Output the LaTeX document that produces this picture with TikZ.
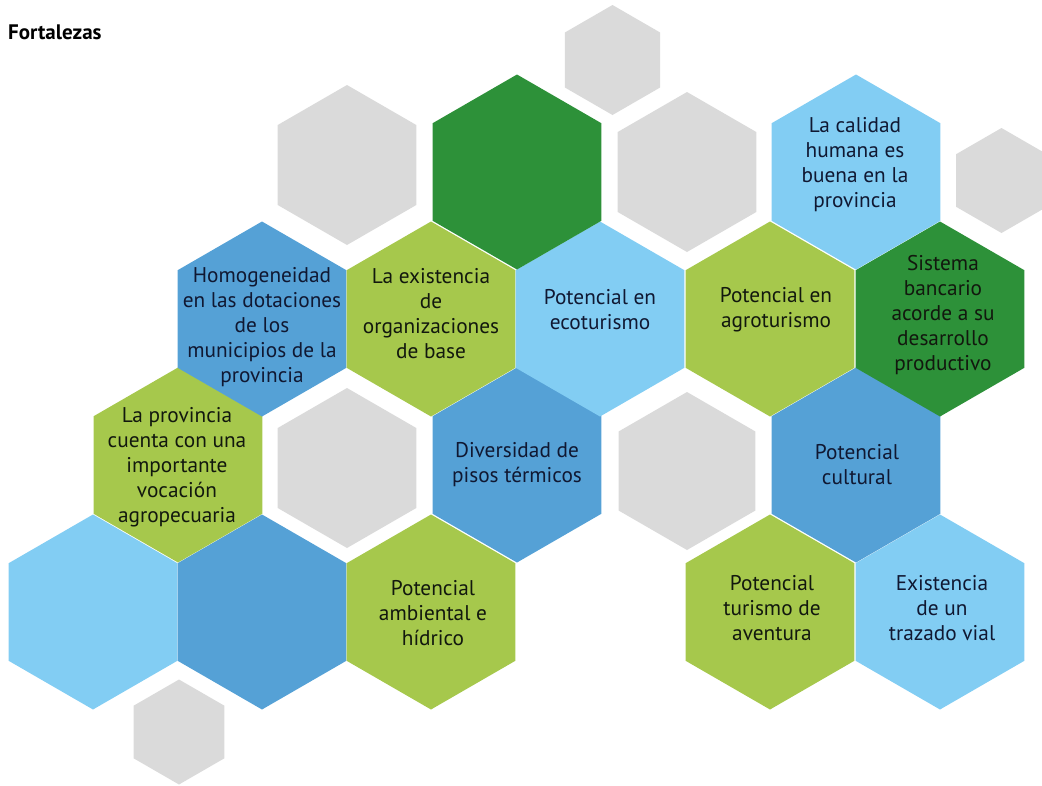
\documentclass[tikz,border=0pt]{standalone}
\usepackage{fontspec}
\setmainfont{PT Sans}
\usetikzlibrary{shapes.geometric}
\definecolor{lblue}{RGB}{130,205,243}
\definecolor{dblue}{RGB}{85,161,214}
\definecolor{lgreen}{RGB}{166,200,76}
\definecolor{dgreen}{RGB}{45,145,57}
\definecolor{greyhex}{RGB}{218,218,218}
\definecolor{navytxt}{RGB}{16,24,50}
\definecolor{darktxt}{RGB}{18,24,14}
\tikzset{
  hex/.style={regular polygon, regular polygon sides=6, shape border rotate=30,
    minimum size=195pt, inner sep=0pt, outer sep=0pt, draw=none},
  ghex/.style={regular polygon, regular polygon sides=6, shape border rotate=30,
    minimum size=#1, inner sep=0pt, outer sep=0pt, draw=none, fill=greyhex},
  txt/.style={align=center, inner sep=0pt, font=\fontsize{21.3}{25}\selectfont},
  btxt/.style={txt, text=navytxt},
  gtxt/.style={txt, text=darktxt}
}
\begin{document}
\begin{tikzpicture}[x=1pt,y=-1pt]
\useasboundingbox (0,0) rectangle (1042,785);
% title
\node[anchor=base west, inner sep=0pt, font=\fontsize{21}{24}\selectfont\bfseries] (title) at (8,39) {Fortalezas};
% grey hexagons
\node[ghex=160pt] (g1) at (347,165) {};
\node[ghex=110pt] (g2) at (612.5,60) {};
\node[ghex=160pt] (g3) at (687,172) {};
\node[ghex=105pt] (g4) at (1001.5,180.5) {};
\node[ghex=160pt] (g5) at (347,468) {};
\node[ghex=158pt] (g6) at (687,471) {};
\node[ghex=105pt] (g7) at (179,732) {};
% coloured hexagons
\node[hex, fill=lblue]  (hA) at (93,612) {};
\node[hex, fill=dblue]  (hB) at (262,612) {};
\node[hex, fill=lgreen] (hC) at (431,612) {};
\node[hex, fill=lgreen] (hD) at (770,612) {};
\node[hex, fill=lblue]  (hE) at (940,612) {};
\node[hex, fill=lgreen] (hF) at (178,465) {};
\node[hex, fill=dblue]  (hG) at (517,465) {};
\node[hex, fill=dblue]  (hH) at (856,465) {};
\node[hex, fill=dblue]  (hI) at (262,319) {};
\node[hex, fill=lgreen] (hJ) at (431,319) {};
\node[hex, fill=lblue]  (hK) at (600,319) {};
\node[hex, fill=lgreen] (hL) at (770,319) {};
\node[hex, fill=dgreen] (hM) at (940,319) {};
\node[hex, fill=dgreen] (hN) at (517,172) {};
\node[hex, fill=lblue]  (hO) at (856,172) {};
% texts
\node[gtxt] (tC) at (433,613) {Potencial\\ambiental e\\hídrico};
\node[gtxt] (tD) at (772,608) {Potencial\\turismo de\\aventura};
\node[btxt] (tE) at (942,608) {Existencia\\de un\\trazado vial};
\node[gtxt] (tF) at (177,467) {La provincia\\cuenta con una\\importante\\vocación\\agropecuaria};
\node[btxt] (tG) at (517,465) {Diversidad de\\pisos térmicos};
\node[btxt] (tH) at (857,465) {Potencial\\cultural};
\node[btxt] (tI) at (262,327) {Homogeneidad\\en las dotaciones\\de los\\municipios de la\\provincia};
\node[gtxt] (tJ) at (431,314) {La existencia\\de\\organizaciones\\de base};
\node[btxt] (tK) at (600,310) {Potencial en\\ecoturismo};
\node[gtxt] (tL) at (776,310) {Potencial en\\agroturismo};
\node[gtxt] (tM) at (943,315) {Sistema\\bancario\\acorde a su\\desarrollo\\productivo};
\node[btxt] (tO) at (855,165) {La calidad\\humana es\\buena en la\\provincia};
\end{tikzpicture}
\end{document}
